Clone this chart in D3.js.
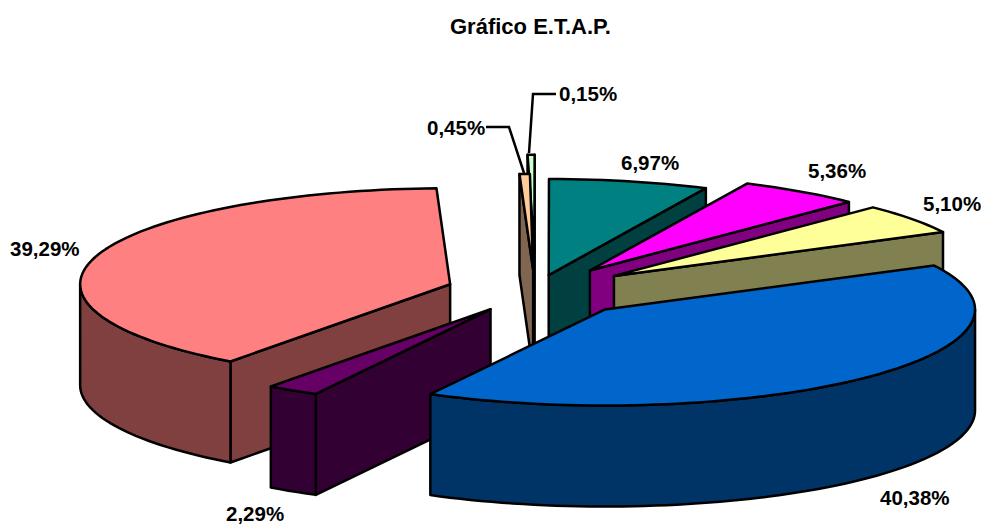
<!DOCTYPE html>
<html>
<head>
<meta charset="utf-8">
<script src="https://cdn.jsdelivr.net/npm/d3@7"></script>
<style>
  html, body { margin: 0; padding: 0; background: #fff; }
  svg { display: block; }
  text { font-family: "Liberation Sans", Arial, sans-serif; font-weight: bold; fill: #000; }
</style>
</head>
<body>
<svg id="chart"></svg>
<script>
// Values, clockwise from the top of the pie
const values = [0.15, 6.97, 5.36, 5.10, 40.38, 2.29, 39.29, 0.45];
const labels = ["0,15%", "6,97%", "5,36%", "5,10%", "40,38%", "2,29%", "39,29%", "0,45%"];
const title = "Gráfico E.T.A.P.";

const topColors = ["#CCFFCC", "#008080", "#FF00FF", "#FFFF99", "#0066CC", "#660066", "#FF8080", "#FFCC99"];
const wallColors = ["#668066", "#004040", "#800080", "#808050", "#003366", "#330033", "#804040", "#806650"];

// How far each slice is pulled out, share of radius
const explode = [0.42, 0.17, 0.26, 0.265, 0.27, 0.225, 0.24, 0.22];
// back to front
const drawOrder = [0, 7, 1, 2, 3, 6, 5, 4];

const width = 981, height = 524;
const cx = 535, cy = 291, rx = 370, ry = 96, depth = 101;
const rotation = -0.5 * Math.PI / 180;
// the 0,15% slice is under 4px wide at true size, open it a bit so its fill shows
const minSweep = 1.1 * Math.PI / 180;

const svg = d3.select("#chart").attr("width", width).attr("height", height);

// Unit circle plane to screen
const xScale = d3.scaleLinear().domain([-1, 1]).range([cx - rx, cx + rx]);
const yScale = d3.scaleLinear().domain([-1, 1]).range([cy - ry, cy + ry]);

const pie = d3.pie().sort(null).startAngle(rotation).endAngle(rotation + 2 * Math.PI);
const slices = pie(values);

const line = d3.line();

function point(d, i, r, a, z) {
  const mid = (d.startAngle + d.endAngle) / 2;
  const ux = explode[i] * Math.sin(mid) + r * Math.sin(a);
  const uy = -explode[i] * Math.cos(mid) - r * Math.cos(a);
  return [xScale(ux), yScale(uy) + z];
}

function arcPoints(d, i, a0, a1, z) {
  const n = Math.max(2, Math.ceil((a1 - a0) / 0.03));
  return d3.range(n + 1).map(k => point(d, i, 1, a0 + (a1 - a0) * k / n, z));
}

function drawSlice(i) {
  const d = slices[i];
  const g = svg.append("g")
    .attr("stroke", "#000")
    .attr("stroke-width", 2.5)
    .attr("stroke-linejoin", "round");
  const b = d.endAngle;
  const a = Math.min(d.startAngle, b - minSweep);

  // side faces, only the ones turned toward the viewer
  const face = ang => [
    point(d, i, 0, ang, 0), point(d, i, 1, ang, 0),
    point(d, i, 1, ang, depth), point(d, i, 0, ang, depth)
  ];
  if (Math.sin(a) < 0) g.append("path").attr("d", line(face(a)) + "Z").attr("fill", wallColors[i]);
  if (Math.sin(b) > 0) g.append("path").attr("d", line(face(b)) + "Z").attr("fill", wallColors[i]);

  // outer wall, the front half only
  const w0 = Math.max(a, Math.PI / 2), w1 = Math.min(b, 3 * Math.PI / 2);
  if (w1 > w0) {
    const top = arcPoints(d, i, w0, w1, 0);
    const bottom = arcPoints(d, i, w0, w1, depth).reverse();
    g.append("path").attr("d", line(top.concat(bottom)) + "Z").attr("fill", wallColors[i]);
  }

  // top surface
  const surface = [point(d, i, 0, a, 0)].concat(arcPoints(d, i, a, b, 0));
  g.append("path").attr("d", line(surface) + "Z").attr("fill", topColors[i]);
}

drawOrder.forEach(drawSlice);

// Leader lines for the two thin slices
const leaders = [
  [[556, 94], [533, 94], [529, 153]],
  [[486, 127], [509, 127], [524, 173]]
];
leaders.forEach(l => {
  svg.append("path").attr("d", line(l))
    .attr("fill", "none").attr("stroke", "#000").attr("stroke-width", 2.5);
});

// Label anchors (left edge, baseline)
const labelPos = [[559, 101], [621, 170], [808, 178], [923, 211], [880, 505], [226, 521], [10, 256], [427, 135]];

svg.selectAll("text.label")
  .data(labels)
  .join("text")
  .attr("class", "label")
  .attr("x", (d, i) => labelPos[i][0])
  .attr("y", (d, i) => labelPos[i][1])
  .attr("font-size", 20.5)
  .text(d => d);

svg.append("text")
  .attr("x", 530.5)
  .attr("y", 34)
  .attr("text-anchor", "middle")
  .attr("font-size", 22)
  .text(title);
</script>
</body>
</html>
